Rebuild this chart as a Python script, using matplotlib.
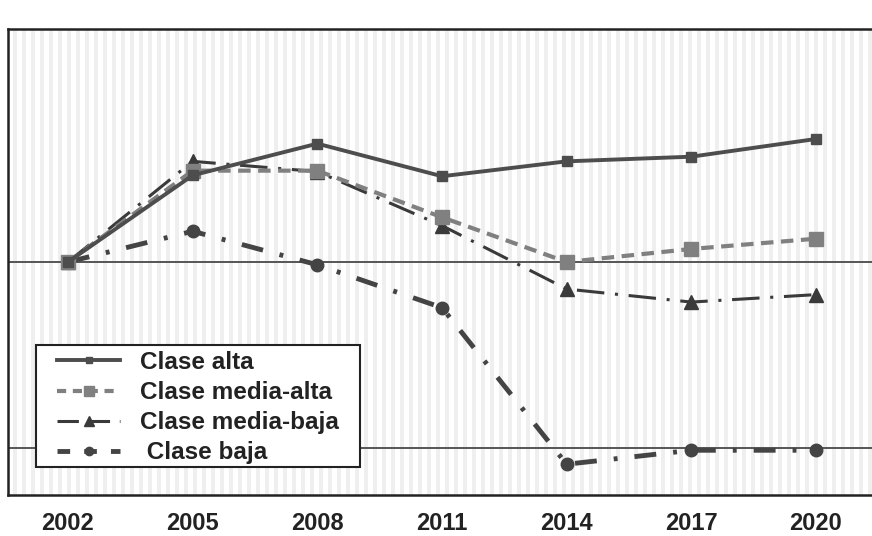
import matplotlib
matplotlib.use("Agg")
import matplotlib.pyplot as plt
from matplotlib.patches import Rectangle
from matplotlib.lines import Line2D

years = [2002, 2005, 2008, 2011, 2014, 2017, 2020]
clase_alta = [100, 109.3, 112.7, 109.2, 110.8, 111.3, 113.2]
clase_media_alta = [100, 109.8, 109.8, 104.8, 100.0, 101.4, 102.5]
clase_media_baja = [100, 110.8, 109.7, 103.9, 97.1, 95.7, 96.5]
clase_baja = [100, 103.3, 99.7, 95.1, 78.3, 79.8, 79.8]
labels = ["Clase alta", "Clase media-alta", "Clase media-baja", " Clase baja"]
ref_lines = [100, 80]

plt.rcParams['font.family'] = ['Liberation Sans', 'DejaVu Sans']

fig = plt.figure(figsize=(8.72, 5.36), dpi=100)
W, H = 872, 536
ax = fig.add_axes([8 / W, (H - 495) / H, (885 - 8) / W, (495 - 29) / H])

# striped background
n = 110
for i in range(n):
    x0 = i * 9.0 / 877
    ax.add_patch(Rectangle((x0 + 4.5 / 877, 0), 4.5 / 877, 1, transform=ax.transAxes,
                           facecolor="#efefef", edgecolor="none", zorder=0))

px_per_year = (816 - 68) / 18.0
ax.set_xlim(2002 - (68 - 8) / px_per_year, 2002 + (885 - 68) / px_per_year)
ax.set_ylim(75.0, 125.0)

for v in ref_lines:
    ax.axhline(v, color="#555555", lw=1.4, zorder=1)

ax.plot(years, clase_alta, color="#4d4d4d", lw=2.8, marker="s", ms=7, zorder=5)
ax.plot(years, clase_media_alta, color="#808080", lw=3.0, ls=(0, (3, 1.8)),
        marker="s", ms=10, zorder=4)
ax.plot(years, clase_media_baja, color="#3a3a3a", lw=2.2,
        ls=(0, (9, 3.5, 1, 3.5)), marker="^", ms=10, zorder=3)
ax.plot(years, clase_baja, color="#444444", lw=3.5,
        ls=(0, (4.5, 3.5, 0.8, 3.5)), marker="o", ms=9, zorder=3)

ax.set_xticks(years)
ax.set_xticklabels([str(y) for y in years], fontsize=17, fontweight="bold",
                   color="#222222")
ax.tick_params(axis="x", length=0, pad=12.5)
ax.set_yticks([])
for s in ["top", "left", "bottom"]:
    ax.spines[s].set_color("#222222")
    ax.spines[s].set_linewidth(1.8)
ax.spines["right"].set_visible(False)

# legend frame drawn separately
frame = Rectangle((36 / W, (H - 467) / H), (360 - 36) / W, (467 - 345) / H,
                  transform=fig.transFigure, facecolor="white", edgecolor="#222222",
                  lw=1.5, zorder=8, clip_on=False)
ax.add_patch(frame)

handles = [
    Line2D([], [], color="#4d4d4d", lw=2.8, marker="s", ms=5),
    Line2D([], [], color="#808080", lw=3.0, ls=(0, (2.2, 1.6)), marker="s", ms=7),
    Line2D([], [], color="#3a3a3a", lw=2.2, ls=(0, (7, 3.2)), marker="^", ms=7),
    Line2D([], [], color="#444444", lw=3.5, ls=(0, (2.6, 2.9)), marker="o", ms=6),
]
leg = ax.legend(handles=handles, labels=labels, loc="upper left",
                bbox_to_anchor=(57 / W, (H - 351) / H), bbox_transform=fig.transFigure,
                prop={"family": "Liberation Sans", "weight": "bold", "size": 17.5},
                frameon=False, handlelength=2.6, numpoints=1,
                labelspacing=0.29, borderpad=0,
                handletextpad=0.82, borderaxespad=0)
leg.set_zorder(10)
for t in leg.get_texts():
    t.set_color("#222222")

fig.savefig("out.png", dpi=100)
